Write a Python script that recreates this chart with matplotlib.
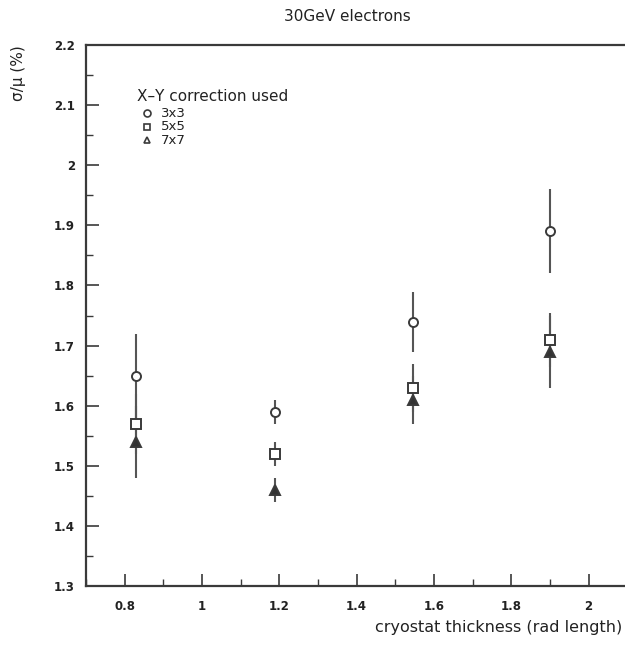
import numpy as np
import matplotlib
matplotlib.use("Agg")
import matplotlib.pyplot as plt
from matplotlib.ticker import MultipleLocator

# cryostat thickness (rad length) and resolution for each cluster size
thickness = [0.83, 1.19, 1.545, 1.90]
res_3x3 = [1.65, 1.59, 1.74, 1.89]
err_3x3 = [0.07, 0.02, 0.05, 0.07]
res_5x5 = [1.57, 1.52, 1.63, 1.71]
err_5x5 = [0.05, 0.02, 0.04, 0.045]
res_7x7 = [1.54, 1.46, 1.61, 1.69]
err_7x7 = [0.06, 0.02, 0.04, 0.06]

series = [
    ("3x3", res_3x3, err_3x3, "o", "white"),
    ("5x5", res_5x5, err_5x5, "s", "white"),
    ("7x7", res_7x7, err_7x7, "^", "#333333"),
]

ink = "#3a3a3a"
plt.rcParams["font.family"] = ["DejaVu Sans"]

fig = plt.figure(figsize=(6.25, 6.47), dpi=100)
ax = fig.add_axes([0.1376, 0.0943, 0.866, 0.836])

for name, y, e, mk, fc in series:
    ax.errorbar(thickness, y, yerr=e, fmt=mk, ms=6.5, mfc=fc, mec=ink,
                mew=1.4, ecolor="#555555", elinewidth=1.5, capsize=0, zorder=3)

ax.set_xlim(0.7, 2.1)
ax.set_ylim(1.3, 2.2)
ax.xaxis.set_minor_locator(MultipleLocator(0.1))
ax.yaxis.set_minor_locator(MultipleLocator(0.05))
ax.set_xticks([0.8, 1.0, 1.2, 1.4, 1.6, 1.8, 2.0])
ax.set_xticklabels(["0.8", "1", "1.2", "1.4", "1.6", "1.8", "2"])
ax.set_yticks(np.round(np.arange(1.3, 2.21, 0.1), 1))
ax.set_yticklabels(["1.3", "1.4", "1.5", "1.6", "1.7", "1.8", "1.9", "2", "2.1", "2.2"])
ax.tick_params(which="major", direction="in", length=9, width=1.2,
               colors=ink, labelsize=8.5, labelcolor="#222222", pad=8)
ax.tick_params(which="minor", direction="in", length=5, width=1.0, colors=ink)
ax.tick_params(axis="x", pad=10)
for lbl in ax.get_xticklabels() + ax.get_yticklabels():
    lbl.set_fontweight("bold")
for sp in ax.spines.values():
    sp.set_color(ink)
    sp.set_linewidth(1.6)

fig.text(0.556, 0.975, "30GeV electrons", ha="center", va="center",
         fontsize=11, color="#222222")
fig.text(0.995, 0.03, "cryostat thickness (rad length)", ha="right",
         va="center", fontsize=11.5, color="#222222")
fig.text(0.03, 0.93, "\u03c3/\u03bc (%)", rotation=90, ha="center",
         va="top", fontsize=11, color="#222222")

# legend block in the upper left
ax.text(0.095, 0.905, "X\u2013Y correction used", transform=ax.transAxes,
        fontsize=11, color="#222222", va="center")
for i, (name, y, e, mk, fc) in enumerate(series):
    yy = 0.874 - i * 0.025
    ax.plot([0.113], [yy], marker=mk, ms=5, mfc="white",
            mec=ink, mew=1.2, transform=ax.transAxes, clip_on=False)
    ax.text(0.138, yy, name, transform=ax.transAxes, fontsize=9.5,
            color="#222222", va="center")

fig.savefig("out.png", dpi=100)
